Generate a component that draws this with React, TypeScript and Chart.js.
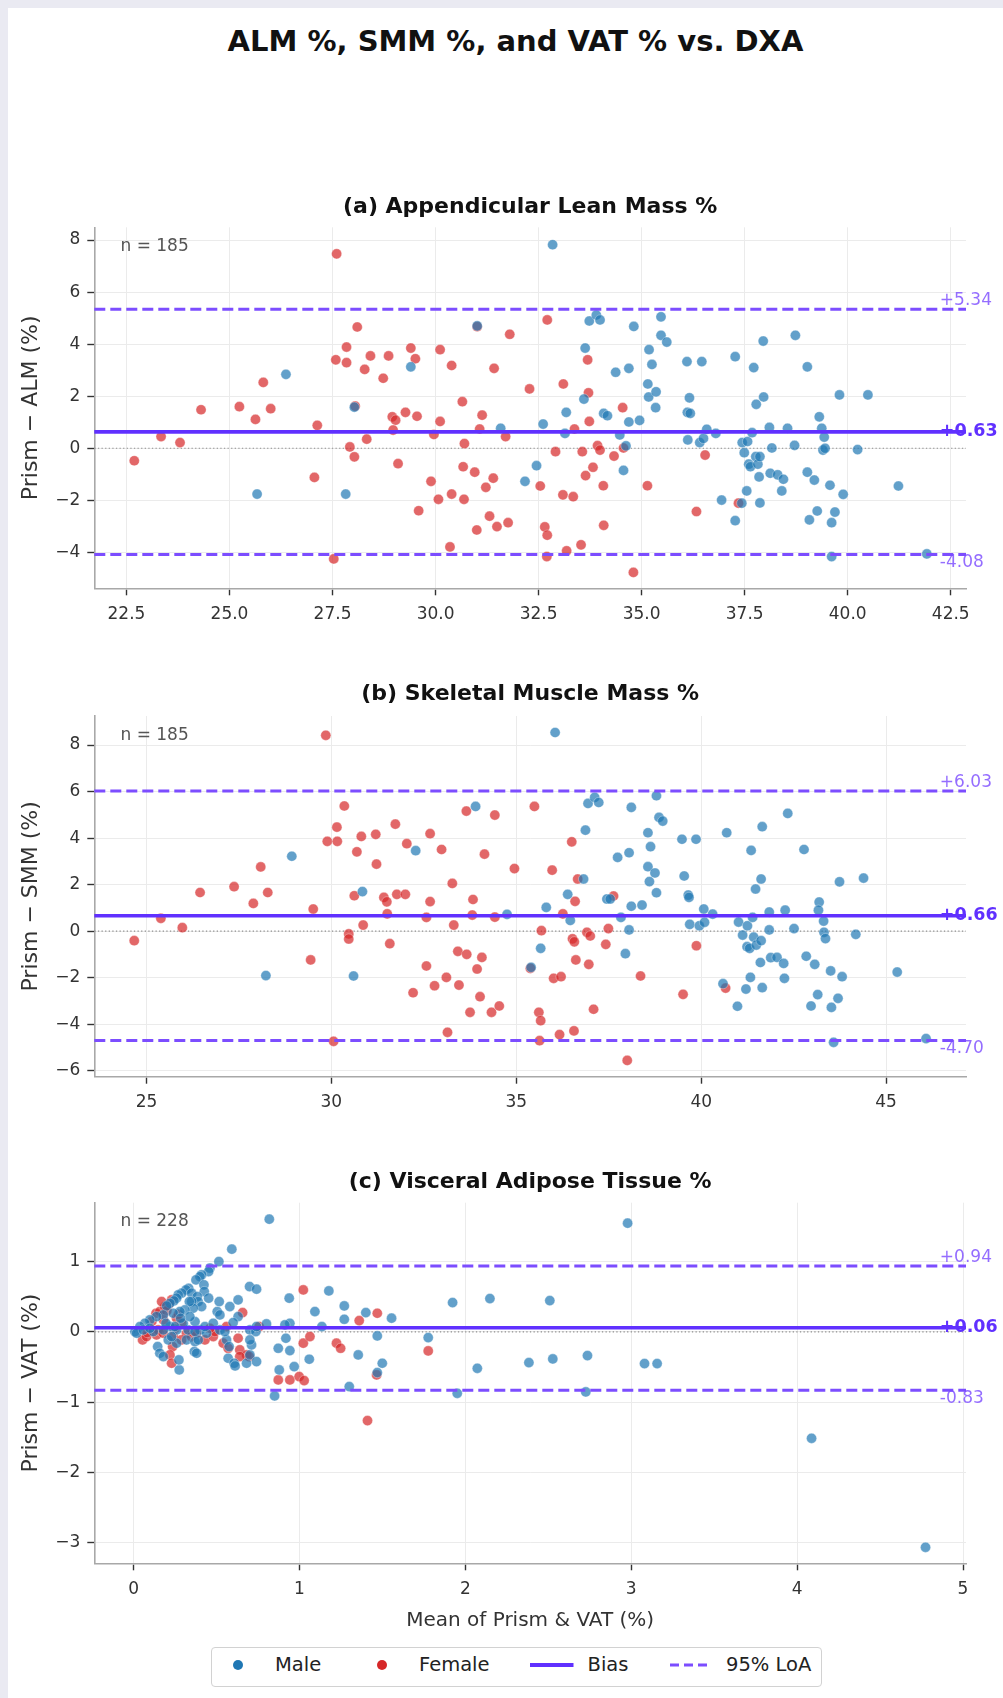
import React, { useEffect, useRef } from 'react';
import { Chart, registerables } from 'chart.js';

Chart.register(...registerables);

const FONT = "'DejaVu Sans', 'Liberation Sans', sans-serif";

// ---------------- data ----------------
// Panel (a) Appendicular Lean Mass %: [mean, difference]
const almMale: [number, number][] = [
  [26.37, 2.84], [25.67, -1.76], [27.82, -1.76], [28.03, 1.58], [29.4, 3.13], [31.01, 4.7], [31.58, 0.77],
  [32.84, 7.82], [32.45, -0.67], [32.61, 0.93], [32.17, -1.27], [33.17, 1.38], [33.14, 0.57], [33.63, 3.85],
  [33.6, 1.89], [33.73, 4.89], [33.9, 5.12], [33.99, 4.93], [34.08, 1.34], [34.17, 1.25], [34.37, 2.92],
  [34.47, 0.51], [34.62, 0.09], [34.56, -0.85], [34.69, 3.07], [34.69, 1.01], [34.81, 4.68], [34.95, 1.07],
  [35.15, 2.47], [35.17, 1.97], [35.18, 3.79], [35.25, 3.22], [35.35, 2.17], [35.34, 1.56], [35.47, 5.05],
  [35.47, 4.34], [35.61, 4.08], [36.1, 3.33], [36.16, 1.94], [36.11, 1.38], [36.18, 1.34], [36.12, 0.32],
  [36.46, 3.33], [36.41, 0.22], [36.5, 0.38], [36.58, 0.73], [36.8, 0.57], [36.94, -1.99], [37.27, 3.52],
  [37.27, -2.78], [37.43, -2.11], [37.44, 0.22], [37.57, 0.26], [37.49, -0.17], [37.55, -1.64], [37.6, -0.61],
  [37.64, -0.71], [37.68, 0.6], [37.72, 3.1], [37.78, 1.69], [37.77, -0.32], [37.82, -0.61], [37.87, -0.32],
  [37.85, -1.1], [37.87, -2.1], [37.95, 4.12], [37.96, 1.97], [38.1, 0.8], [38.12, -0.96], [38.16, 0.01],
  [38.3, -1.02], [38.44, -1.19], [38.4, -1.64], [38.54, 0.77], [38.73, 4.34], [38.71, 0.11], [39.02, 3.13],
  [39.02, -0.92], [39.19, -1.22], [39.07, -2.75], [39.26, -2.41], [39.31, 1.21], [39.37, 0.77], [39.43, 0.43],
  [39.4, -0.07], [39.45, 0.0], [39.57, -1.42], [39.69, -2.45], [39.61, -2.86], [39.61, -4.16], [39.8, 2.05],
  [39.89, -1.77], [40.24, -0.05], [40.49, 2.05], [41.23, -1.45], [41.92, -4.06],
];
const almFemale: [number, number][] = [
  [22.69, -0.48], [23.34, 0.45], [23.8, 0.22], [24.31, 1.48], [25.24, 1.6], [25.63, 1.11], [25.82, 2.53],
  [26.0, 1.52], [27.06, -1.12], [27.13, 0.88], [27.6, 7.47], [27.58, 3.4], [27.53, -4.25], [27.84, 3.89],
  [27.84, 3.29], [28.1, 4.66], [28.05, 1.62], [27.92, 0.05], [28.03, -0.33], [28.28, 3.03], [28.42, 3.55],
  [28.33, 0.35], [28.73, 2.69], [28.86, 3.55], [28.95, 1.21], [29.03, 1.08], [28.97, 0.7], [29.09, -0.59],
  [29.27, 1.38], [29.4, 3.85], [29.51, 3.44], [29.55, 1.23], [29.59, -2.4], [29.89, -1.27], [29.96, 0.53],
  [30.07, -1.96], [30.11, 3.79], [30.11, 1.03], [30.39, 3.18], [30.39, -1.76], [30.35, -3.79], [30.65, 1.79],
  [30.7, 0.18], [30.67, -0.71], [30.69, -1.96], [30.95, -0.92], [31.0, -3.14], [31.01, 4.67], [31.13, 1.27],
  [31.07, 0.74], [31.22, -1.5], [31.31, -2.61], [31.4, -1.15], [31.42, 3.07], [31.49, -3.01],
  [32.71, 4.93], [31.8, 4.38], [31.7, 0.45], [31.76, -2.86], [32.28, 2.28], [32.54, -1.45], [32.65, -3.02],
  [32.71, -3.34], [32.7, -4.16], [32.91, -0.13], [33.1, 2.47], [33.09, -1.79], [33.34, -1.86], [33.18, -3.94],
  [33.37, 0.74], [33.56, -0.13], [33.53, -3.71], [33.69, 3.4], [33.71, 2.13], [33.73, 1.03], [33.64, -1.05],
  [33.82, -0.73], [33.93, 0.1], [33.99, -0.07], [34.07, -1.44], [34.08, -2.96], [34.33, -0.3], [34.54, 1.56],
  [34.56, 0.01], [34.8, -4.77], [35.14, -1.44], [36.54, -0.26], [36.33, -2.43], [37.35, -2.11],
];

// Panel (b) Skeletal Muscle Mass %
const smmMale: [number, number][] = [
  [28.93, 3.22], [28.23, -1.91], [30.84, 1.7], [30.6, -1.93], [32.28, 3.46], [33.9, 5.36], [36.05, 8.54],
  [34.75, 0.72], [36.82, 2.24], [35.81, 1.02], [36.39, 1.58], [36.46, 0.46], [35.66, -0.74], [35.4, -1.56],
  [36.87, 4.34], [36.94, 5.49], [37.12, 5.75], [37.23, 5.53], [37.45, 1.38], [37.54, 1.38], [37.74, 3.17],
  [37.83, 0.59], [37.95, -0.97], [38.05, 3.37], [38.05, 0.05], [38.11, 5.32], [38.11, 1.07], [38.4, 1.12],
  [38.56, 4.23], [38.56, 2.77], [38.63, 3.63], [38.6, 2.13], [38.75, 2.5], [38.79, 5.82], [38.86, 4.89],
  [38.96, 4.73], [38.79, 1.65], [39.48, 3.95], [39.54, 2.37], [39.65, 1.55], [39.67, 1.45], [39.69, 0.29],
  [39.86, 3.95], [39.95, 0.23], [40.09, 0.38], [40.07, 0.95], [40.31, 0.73], [40.59, -2.26], [40.69, 4.23],
  [40.98, -3.23], [41.01, 0.39], [41.12, -0.17], [41.21, -2.49], [41.25, 0.23], [41.24, -0.67], [41.31, -0.74],
  [41.33, -1.99], [41.35, 3.47], [41.39, 0.59], [41.42, -0.26], [41.49, -0.6], [41.47, 1.81], [41.62, 2.24],
  [41.62, -0.41], [41.65, 4.49], [41.65, -2.43], [41.6, -1.35], [41.84, 0.82], [41.84, 0.05], [41.88, -1.14],
  [42.05, -1.13], [42.23, -1.39], [42.25, -2.03], [42.27, 0.9], [42.34, 5.06], [42.51, 0.11], [42.78, 3.51],
  [42.84, -1.08], [43.07, -1.43], [42.97, -3.22], [43.15, -2.73], [43.19, 1.25], [43.17, 0.9], [43.31, 0.43],
  [43.32, -0.05], [43.36, -0.32], [43.5, -1.71], [43.52, -3.28], [43.7, -2.89], [43.58, -4.78], [43.74, 2.12],
  [43.81, -1.96], [44.18, -0.14], [44.39, 2.28], [45.3, -1.76], [46.08, -4.62],
];
const smmFemale: [number, number][] = [
  [24.67, -0.41], [25.39, 0.55], [25.97, 0.15], [26.45, 1.66], [27.37, 1.91], [27.89, 1.19], [28.09, 2.76],
  [28.28, 1.66], [29.44, -1.24], [29.51, 0.95], [29.85, 8.42], [29.89, 3.86], [30.15, 4.47], [30.16, 3.86],
  [30.06, -4.74], [30.35, 5.38], [30.69, 3.41], [30.81, 4.07], [30.62, 1.52], [30.86, 0.26], [30.47, -0.12],
  [30.47, -0.34], [31.2, 4.16], [31.22, 2.88], [31.42, 1.45], [31.5, 1.26], [31.51, 0.74], [31.58, -0.54],
  [31.73, 4.6], [31.77, 1.58], [32.0, 1.58], [32.04, 3.76], [32.21, -2.65], [32.57, -1.5], [32.57, 0.59],
  [32.67, 4.19], [32.67, 1.27], [32.79, -2.35], [32.98, 3.51], [33.11, -1.99], [33.14, -4.35], [33.27, 2.05],
  [33.31, 0.26], [33.42, -0.87], [33.45, -2.32], [33.65, 5.16], [33.66, -1.0], [33.75, -3.49], [33.83, 1.36],
  [33.81, 0.69], [33.94, -1.63], [34.02, -2.82], [34.07, -1.13], [34.14, 3.31], [34.33, -3.49], [34.42, 4.99],
  [34.42, 0.6], [34.54, -3.22], [35.49, 5.36], [34.95, 2.69], [35.97, 2.62], [36.5, 3.84], [36.66, 2.24],
  [36.26, 0.74], [36.59, 1.28], [35.68, 0.02], [35.38, -1.6], [36.01, -2.03], [36.21, -1.96], [35.61, -3.49],
  [35.66, -3.85], [35.63, -4.71], [36.17, -4.45], [36.56, -4.29], [37.09, -3.36], [36.52, -0.33], [36.57, -0.46],
  [36.61, -1.24], [36.91, -0.05], [37.0, -0.21], [36.96, -1.43], [37.42, -0.57], [37.49, 0.11], [37.63, 1.51],
  [38.0, -5.56], [38.36, -1.93], [39.87, -0.63], [39.51, -2.72], [40.66, -2.45],
];

// Panel (c) Visceral Adipose Tissue %
const vatMale: [number, number][] = [
  [0.592, 1.178], [0.514, 1.002], [0.46, 0.907], [0.452, 0.859], [0.41, 0.812], [0.4, 0.788], [0.376, 0.741],
  [0.424, 0.67], [0.426, 0.575], [0.452, 0.48], [0.699, 0.646], [0.741, 0.608], [0.332, 0.622], [0.316, 0.598],
  [0.29, 0.551], [0.269, 0.527], [0.259, 0.48], [0.243, 0.442], [0.219, 0.408], [0.199, 0.37], [0.35, 0.551],
  [0.384, 0.503], [0.389, 0.432], [0.35, 0.432], [0.41, 0.361], [0.359, 0.337], [0.336, 0.432], [0.309, 0.313],
  [0.279, 0.29], [0.239, 0.266], [0.179, 0.242], [0.138, 0.218], [0.098, 0.171], [0.068, 0.123], [0.038, 0.076],
  [0.008, 0.005], [0.018, -0.019], [0.058, 0.028], [0.516, 0.432], [0.58, 0.361], [0.63, 0.456], [0.504, 0.29],
  [0.52, 0.242], [0.63, 0.218], [0.6, 0.133], [0.801, 0.114], [0.942, 0.123], [0.912, 0.1], [0.938, 0.48],
  [1.093, 0.29], [1.177, 0.584], [1.135, 0.076], [1.27, 0.37], [1.27, 0.18], [1.4, 0.275], [0.701, 0.028],
  [0.737, 0.005], [0.145, -0.209], [0.158, -0.304], [0.179, -0.351], [0.275, -0.541], [0.273, -0.399],
  [0.366, -0.28], [0.38, -0.304], [0.209, -0.114], [0.259, -0.161], [0.319, -0.114], [0.37, -0.138],
  [0.39, -0.114], [0.329, 0.028], [0.4, 0.028], [0.44, -0.019], [0.56, -0.114], [0.576, -0.209], [0.57, -0.375],
  [0.606, -0.446], [0.612, -0.484], [0.681, -0.446], [0.701, -0.328], [0.711, -0.185], [0.741, -0.423],
  [0.701, -0.114], [0.741, 0.076], [0.872, -0.233], [0.942, -0.266], [0.918, -0.09], [0.968, -0.494],
  [0.878, -0.541], [1.059, -0.389], [0.85, -0.912], [1.3, -0.779], [1.354, -0.328], [0.259, 0.028],
  [0.219, 0.076], [0.179, 0.028], [0.119, 0.005], [0.098, 0.052], [0.299, 0.123], [0.37, 0.147], [0.339, 0.218],
  [0.283, 0.195], [0.249, 0.076], [0.195, 0.123], [0.37, 0.005], [0.43, 0.076], [0.48, 0.123], [0.52, 0.028],
  [0.55, 0.005], [0.229, -0.066], [0.818, 1.605], [1.469, -0.057], [1.499, -0.446], [1.469, -0.579],
  [1.555, 0.195], [1.776, -0.081], [1.923, 0.418], [2.148, 0.475], [2.072, -0.518], [1.951, -0.874],
  [2.978, 1.548], [2.509, 0.446], [2.383, -0.437], [2.527, -0.385], [2.736, -0.337], [2.726, -0.855],
  [3.08, -0.451], [3.156, -0.451], [4.087, -1.515], [4.774, -3.067],
];
const vatFemale: [number, number][] = [
  [0.054, -0.114], [0.078, -0.066], [0.082, -0.009], [0.138, -0.043], [0.148, 0.028], [0.135, 0.266],
  [0.158, 0.29], [0.188, 0.361], [0.209, 0.385], [0.169, 0.432], [0.229, 0.456], [0.259, 0.195], [0.249, 0.052],
  [0.289, 0.123], [0.179, -0.019], [0.239, -0.066], [0.319, -0.019], [0.289, -0.114], [0.235, -0.209],
  [0.219, -0.328], [0.229, -0.446], [0.43, -0.114], [0.48, -0.066], [0.49, 0.005], [0.54, -0.161],
  [0.57, -0.233], [0.63, -0.09], [0.64, -0.256], [0.681, -0.328], [0.697, -0.351], [0.64, -0.351],
  [0.349, -0.066], [0.38, -0.019], [0.46, 0.052], [0.56, 0.076], [1.023, -0.161], [1.063, -0.066],
  [0.872, -0.684], [0.942, -0.684], [0.998, -0.636], [1.028, -0.693], [1.223, -0.161], [1.248, -0.233],
  [1.41, -1.263], [0.757, 0.076], [0.657, 0.275], [1.023, 0.598], [1.36, 0.161], [1.469, 0.266],
  [1.465, -0.613], [1.776, -0.271], [0.11, 0.15], [0.2, 0.3], [0.18, 0.17], [0.27, 0.25],
];

// Bias, upper LoA, lower LoA
const almStats = [0.63, 5.34, -4.08];
const smmStats = [0.66, 6.03, -4.7];
const vatStats = [0.06, 0.94, -0.83];
const sampleSizes = [185, 185, 228];

const almXTicks = [22.5, 25, 27.5, 30, 32.5, 35, 37.5, 40, 42.5];
const almYTicks = [-4, -2, 0, 2, 4, 6, 8];
const smmXTicks = [25, 30, 35, 40, 45];
const smmYTicks = [-6, -4, -2, 0, 2, 4, 6, 8];
const vatXTicks = [0, 1, 2, 3, 4, 5];
const vatYTicks = [-3, -2, -1, 0, 1];

const panelTitles = ['(a) Appendicular Lean Mass %', '(b) Skeletal Muscle Mass %', '(c) Visceral Adipose Tissue %'];
const yLabels = ['Prism − ALM (%)', 'Prism − SMM (%)', 'Prism − VAT (%)'];
const xLabel = 'Mean of Prism & VAT (%)';
const figureTitle = 'ALM %, SMM %, and VAT % vs. DXA';
const legendLabels = ['Male', 'Female', 'Bias', '95% LoA'];

// ---------------- styles ----------------
const MALE_FILL = 'rgba(31,119,180,0.7)';
const FEMALE_FILL = 'rgba(214,39,40,0.7)';
const BIAS_COLOR = '#6030ff';
const LOA_COLOR = '#7c4dff';
const LOA_TEXT = 'rgba(124,77,255,0.82)';

const fmtTick = (dec: number) => (v: any) => {
  const n = Number(v);
  const s = Math.abs(n).toFixed(dec);
  return (n < 0 ? '−' : '') + s;
};

const baPlugin = {
  id: 'ba',
  beforeDatasetsDraw(chart: any) {
    const { ctx, chartArea: ca, scales } = chart;
    const y0 = scales.y.getPixelForValue(0);
    ctx.save();
    ctx.strokeStyle = '#8f8f8f';
    ctx.lineWidth = 1.1;
    ctx.setLineDash([1.3, 2.3]);
    ctx.beginPath();
    ctx.moveTo(ca.left, y0);
    ctx.lineTo(ca.right, y0);
    ctx.stroke();
    ctx.restore();
  },
  afterDatasetsDraw(chart: any, _args: any, opts: any) {
    const { ctx, chartArea: ca, scales } = chart;
    const [bias, hi, lo] = opts.stats;
    const yb = scales.y.getPixelForValue(bias);
    const yh = scales.y.getPixelForValue(hi);
    const yl = scales.y.getPixelForValue(lo);
    ctx.save();
    ctx.lineWidth = 3;
    ctx.strokeStyle = LOA_COLOR;
    ctx.setLineDash([11, 5]);
    [yh, yl].forEach((py) => {
      ctx.beginPath();
      ctx.moveTo(ca.left, py);
      ctx.lineTo(ca.right, py);
      ctx.stroke();
    });
    ctx.setLineDash([]);
    ctx.lineWidth = 3.6;
    ctx.strokeStyle = BIAS_COLOR;
    ctx.beginPath();
    ctx.moveTo(ca.left, yb);
    ctx.lineTo(ca.right, yb);
    ctx.stroke();

    const lx = ca.left + 0.97 * (ca.right - ca.left);
    ctx.textAlign = 'left';
    ctx.font = `17px ${FONT}`;
    ctx.fillStyle = LOA_TEXT;
    ctx.textBaseline = 'bottom';
    ctx.fillText('+' + hi.toFixed(2), lx, yh);
    ctx.textBaseline = 'top';
    ctx.fillText(lo.toFixed(2), lx, yl);
    ctx.font = `bold 17.5px ${FONT}`;
    ctx.fillStyle = BIAS_COLOR;
    ctx.textBaseline = 'middle';
    ctx.fillText((bias >= 0 ? '+' : '') + bias.toFixed(2), lx, yb);

    ctx.font = `17px ${FONT}`;
    ctx.fillStyle = '#555';
    ctx.textBaseline = 'top';
    ctx.fillText(`n = ${opts.n}`, ca.left + 0.03 * (ca.right - ca.left), ca.top + 0.03 * (ca.bottom - ca.top));
    ctx.restore();
  },
};

type PanelCfg = {
  male: [number, number][];
  female: [number, number][];
  stats: number[];
  n: number;
  title: string;
  yLabel: string;
  xLabel?: string;
  xTicks: number[];
  yTicks: number[];
  xDec: number;
  xMin: number; xMax: number; yMin: number; yMax: number;
  top: number; height: number; titlePadBottom: number; xAxisHeight: number;
};

function Panel({ cfg }: { cfg: PanelCfg }) {
  const ref = useRef<HTMLCanvasElement>(null);
  useEffect(() => {
    const grid = { color: '#ebebeb', lineWidth: 1, tickColor: '#333', tickWidth: 1.4, tickLength: 7, drawTicks: true };
    const border = { color: '#a8a8a8', width: 1.6 };
    const pointStyle = { borderColor: 'rgba(255,255,255,0.55)', borderWidth: 0.6, pointRadius: 5.1 };
    const chart = new Chart(ref.current as HTMLCanvasElement, {
      type: 'scatter',
      data: {
        datasets: [
          { label: legendLabels[0], data: cfg.male.map(([x, y]) => ({ x, y })), backgroundColor: MALE_FILL, ...pointStyle },
          { label: legendLabels[1], data: cfg.female.map(([x, y]) => ({ x, y })), backgroundColor: FEMALE_FILL, ...pointStyle },
        ],
      },
      options: {
        animation: false,
        responsive: false,
        maintainAspectRatio: false,
        events: [],
        layout: { padding: { left: 0, right: 37, top: 0, bottom: 0 } },
        plugins: {
          legend: { display: false },
          tooltip: { enabled: false },
          title: {
            display: true,
            fullSize: false,
            text: cfg.title,
            color: '#111',
            font: { family: FONT, size: 22, weight: 'bold', lineHeight: 1.2 },
            padding: { top: 0, bottom: cfg.titlePadBottom },
          },
          ba: { stats: cfg.stats, n: cfg.n },
        } as any,
        scales: {
          x: {
            type: 'linear',
            min: cfg.xMin,
            max: cfg.xMax,
            afterBuildTicks: (s: any) => { s.ticks = cfg.xTicks.map((value) => ({ value })); },
            afterFit: (s: any) => { s.height = cfg.xAxisHeight; },
            ticks: { callback: fmtTick(cfg.xDec), color: '#333', font: { family: FONT, size: 17 }, padding: 9, maxRotation: 0, autoSkip: false },
            grid,
            border,
            title: cfg.xLabel
              ? { display: true, text: cfg.xLabel, color: '#333', font: { family: FONT, size: 20, lineHeight: 1.2 }, padding: { top: 0, bottom: 7.5 } }
              : { display: false },
          },
          y: {
            type: 'linear',
            min: cfg.yMin,
            max: cfg.yMax,
            afterBuildTicks: (s: any) => { s.ticks = cfg.yTicks.map((value) => ({ value })); },
            afterFit: (s: any) => { s.width = 86.3; },
            ticks: { callback: fmtTick(0), color: '#333', font: { family: FONT, size: 17 }, padding: 7, autoSkip: false },
            grid,
            border,
            title: { display: true, text: cfg.yLabel, color: '#333', font: { family: FONT, size: 22, lineHeight: 1.2 }, padding: { top: 10.5, bottom: 0 } },
          },
        },
      } as any,
      plugins: [baPlugin as any],
    });
    return () => chart.destroy();
  }, []);
  return (
    <canvas
      ref={ref}
      width={995}
      height={cfg.height}
      style={{ position: 'absolute', left: 0, top: cfg.top - 8, width: 995, height: cfg.height, display: 'block' }}
    />
  );
}

const panels: PanelCfg[] = [
  {
    male: almMale, female: almFemale, stats: almStats, n: sampleSizes[0], title: panelTitles[0], yLabel: yLabels[0],
    xTicks: almXTicks, yTicks: almYTicks, xDec: 1, xMin: 21.72, xMax: 42.87, yMin: -5.38, yMax: 8.49,
    top: 194, height: 435, titlePadBottom: 6.9, xAxisHeight: 40.7,
  },
  {
    male: smmMale, female: smmFemale, stats: smmStats, n: sampleSizes[1], title: panelTitles[1], yLabel: yLabels[1],
    xTicks: smmXTicks, yTicks: smmYTicks, xDec: 0, xMin: 23.59, xMax: 47.16, yMin: -6.26, yMax: 9.25,
    top: 681, height: 436, titlePadBottom: 8.6, xAxisHeight: 40.3,
  },
  {
    male: vatMale, female: vatFemale, stats: vatStats, n: sampleSizes[2], title: panelTitles[2], yLabel: yLabels[2], xLabel,
    xTicks: vatXTicks, yTicks: vatYTicks, xDec: 0, xMin: -0.237, xMax: 5.018, yMin: -3.295, yMax: 1.84,
    top: 1169, height: 471, titlePadBottom: 7.3, xAxisHeight: 76.7,
  },
];

function Legend() {
  const cy = 1657;
  const text = (label: string, left: number) => (
    <div style={{ position: 'absolute', left, top: cy - 12, height: 24, lineHeight: '24px', fontSize: 19.5, color: '#222', whiteSpace: 'nowrap' }}>{label}</div>
  );
  const dot = (cx: number, color: string) => (
    <div style={{ position: 'absolute', left: cx - 5, top: cy - 5, width: 10, height: 10, borderRadius: '50%', background: color }} />
  );
  return (
    <>
      <div style={{ position: 'absolute', left: 203, top: 1638.7, width: 611, height: 40.3, border: '1.5px solid #d2d2d2', borderRadius: 4, boxSizing: 'border-box', background: '#fff' }} />
      {dot(230.4, '#1f77b4')}
      {text(legendLabels[0], 267)}
      {dot(374, '#d62728')}
      {text(legendLabels[1], 411)}
      <svg style={{ position: 'absolute', left: 521.5, top: cy - 5, overflow: 'visible' }} width={44} height={10}>
        <line x1={0} y1={5} x2={43.5} y2={5} stroke={BIAS_COLOR} strokeWidth={3.8} />
      </svg>
      {text(legendLabels[2], 579.5)}
      <svg style={{ position: 'absolute', left: 662, top: cy - 5, overflow: 'visible' }} width={41} height={10}>
        <line x1={0} y1={5} x2={40} y2={5} stroke={LOA_COLOR} strokeWidth={3} strokeDasharray="9 5" />
      </svg>
      {text(legendLabels[3], 718)}
    </>
  );
}

export default function App() {
  useEffect(() => {
    document.documentElement.style.background = '#eaeaf2';
    document.documentElement.style.overflow = 'hidden';
    document.body.style.background = '#eaeaf2';
    document.body.style.margin = '8px 0 0 8px';
    document.body.style.overflow = 'hidden';
  }, []);
  return (
    <div style={{ position: 'relative', width: 995, height: 1690, background: '#fff', overflow: 'hidden', fontFamily: FONT }}>
      <div style={{ position: 'absolute', left: 107.5, top: 19.2, width: 800, textAlign: 'center', fontWeight: 'bold', fontSize: 29, lineHeight: '29px', color: '#111', whiteSpace: 'nowrap' }}>
        {figureTitle}
      </div>
      {panels.map((p, i) => <Panel key={i} cfg={p} />)}
      <Legend />
    </div>
  );
}
